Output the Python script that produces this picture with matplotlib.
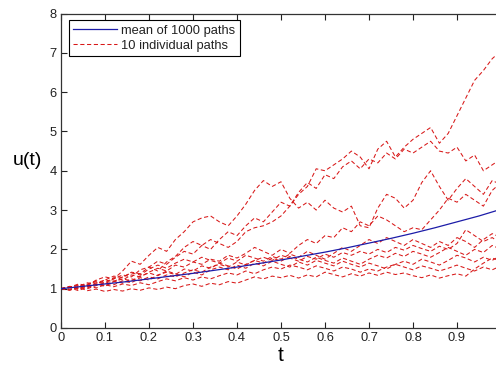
import numpy as np
import matplotlib
matplotlib.use("Agg")
import matplotlib.pyplot as plt

plt.rcParams['font.family'] = ['Liberation Sans', 'DejaVu Sans']

# time grids
t_paths = [round(0.02 * i, 2) for i in range(51)]
t_mean = [round(0.05 * i, 2) for i in range(21)]

# mean of 1000 paths
mean_vals = [1.00, 1.06, 1.12, 1.18, 1.25, 1.32, 1.39, 1.47, 1.55, 1.64, 1.73,
             1.83, 1.93, 2.04, 2.16, 2.28, 2.41, 2.55, 2.70, 2.85, 3.02]

# 10 individual paths
path_1 = [1.00, 1.05, 0.98, 1.10, 1.18, 1.12, 1.25, 1.35, 1.30, 1.48, 1.55,
          1.45, 1.68, 1.82, 2.05, 2.20, 2.10, 2.25, 2.15, 2.05, 2.20, 2.45,
          2.55, 2.60, 2.70, 2.85, 3.10, 3.40, 3.60, 4.05, 4.00, 4.15, 4.30,
          4.50, 4.35, 4.05, 4.55, 4.75, 4.35, 4.60, 4.80, 4.95, 5.10, 4.70,
          4.95, 5.40, 5.85, 6.30, 6.55, 6.85, 7.05]
path_2 = [1.00, 1.04, 1.12, 1.08, 1.22, 1.30, 1.25, 1.45, 1.70, 1.62, 1.85,
          2.05, 1.95, 2.25, 2.45, 2.70, 2.80, 2.85, 2.70, 2.60, 2.85, 3.15,
          3.50, 3.75, 3.60, 3.72, 3.30, 3.05, 3.20, 3.00, 3.25, 3.05, 2.95,
          3.10, 2.60, 2.55, 3.05, 3.40, 3.30, 3.05, 3.25, 3.70, 4.00, 3.60,
          3.25, 3.55, 3.80, 3.60, 3.40, 3.75, 3.65]
path_3 = [1.00, 0.97, 1.06, 1.15, 1.10, 1.22, 1.32, 1.28, 1.42, 1.38, 1.55,
          1.70, 1.62, 1.80, 1.95, 1.88, 2.10, 2.00, 2.25, 2.45, 2.35, 2.60,
          2.80, 2.70, 2.95, 3.20, 3.10, 3.45, 3.70, 3.55, 3.90, 3.80, 4.10,
          4.25, 4.05, 4.30, 4.20, 4.45, 4.30, 4.55, 4.45, 4.60, 4.75, 4.50,
          4.45, 4.60, 4.25, 4.40, 4.00, 4.15, 4.30]
path_4 = [1.00, 1.06, 1.02, 1.12, 1.20, 1.15, 1.28, 1.22, 1.35, 1.30, 1.42,
          1.52, 1.45, 1.60, 1.55, 1.68, 1.62, 1.75, 1.70, 1.85, 1.78, 1.90,
          2.05, 1.95, 1.85, 2.00, 1.90, 2.10, 2.25, 2.15, 2.35, 2.30, 2.55,
          2.45, 2.70, 2.60, 2.85, 2.75, 2.60, 2.45, 2.55, 2.50, 2.75, 3.00,
          3.30, 3.20, 3.40, 3.25, 3.10, 3.50, 3.70]
path_5 = [1.00, 1.03, 1.10, 1.05, 1.15, 1.22, 1.18, 1.30, 1.40, 1.35, 1.50,
          1.60, 1.52, 1.65, 1.75, 1.68, 1.80, 1.72, 1.65, 1.78, 1.70, 1.85,
          1.78, 1.70, 1.82, 1.75, 1.88, 1.80, 1.95, 1.85, 1.75, 1.90, 2.05,
          1.95, 2.10, 2.25, 2.15, 2.30, 2.20, 2.10, 2.25, 2.15, 2.05, 2.20,
          2.10, 2.30, 2.20, 2.05, 2.25, 2.40, 2.30]
path_6 = [1.00, 0.96, 1.04, 1.00, 1.08, 1.15, 1.10, 1.20, 1.15, 1.28, 1.22,
          1.35, 1.42, 1.36, 1.50, 1.45, 1.58, 1.52, 1.65, 1.58, 1.50, 1.62,
          1.72, 1.65, 1.78, 1.70, 1.82, 1.75, 1.68, 1.80, 1.72, 1.65, 1.78,
          1.70, 1.62, 1.75, 1.85, 1.78, 1.90, 1.82, 1.95, 1.88, 1.80, 1.92,
          2.05, 1.95, 1.85, 2.00, 1.92, 2.10, 2.00]
path_7 = [1.00, 1.02, 0.95, 1.05, 1.12, 1.06, 1.18, 1.25, 1.20, 1.32, 1.40,
          1.33, 1.45, 1.38, 1.30, 1.42, 1.35, 1.48, 1.55, 1.48, 1.60, 1.52,
          1.65, 1.58, 1.70, 1.62, 1.55, 1.68, 1.60, 1.72, 1.65, 1.58, 1.70,
          1.62, 1.55, 1.65, 1.58, 1.50, 1.62, 1.70, 1.62, 1.75, 1.68, 1.60,
          1.72, 1.85, 1.78, 1.68, 1.80, 1.72, 1.85]
path_8 = [1.00, 0.97, 1.03, 0.95, 0.99, 0.93, 0.98, 0.94, 1.00, 0.96, 1.02,
          0.98, 1.04, 1.00, 1.08, 1.12, 1.06, 1.14, 1.10, 1.18, 1.14, 1.22,
          1.30, 1.25, 1.32, 1.28, 1.34, 1.27, 1.35, 1.30, 1.42, 1.36, 1.30,
          1.38, 1.32, 1.40, 1.34, 1.42, 1.36, 1.40, 1.33, 1.28, 1.35, 1.27,
          1.33, 1.38, 1.32, 1.50, 1.65, 1.78, 1.70]
path_9 = [1.00, 1.05, 1.00, 1.08, 1.02, 1.10, 1.05, 1.12, 1.08, 1.15, 1.10,
          1.18, 1.25, 1.20, 1.28, 1.22, 1.30, 1.25, 1.33, 1.40, 1.35, 1.45,
          1.38, 1.48, 1.55, 1.50, 1.60, 1.55, 1.48, 1.58, 1.52, 1.45, 1.55,
          1.50, 1.42, 1.50, 1.45, 1.55, 1.62, 1.55, 1.48, 1.58, 1.52, 1.45,
          1.52, 1.60, 1.52, 1.45, 1.55, 1.48, 1.58]
path_10 = [1.00, 1.04, 1.08, 1.02, 1.12, 1.08, 1.20, 1.14, 1.25, 1.20, 1.30,
           1.25, 1.35, 1.30, 1.40, 1.48, 1.42, 1.55, 1.62, 1.55, 1.68, 1.60,
           1.72, 1.80, 1.72, 1.85, 1.78, 1.70, 1.82, 1.75, 1.88, 1.80, 1.92,
           1.85, 1.95, 1.88, 2.00, 1.92, 2.05, 1.98, 2.10, 2.02, 1.95, 2.08,
           2.00, 2.15, 2.50, 2.35, 2.20, 2.30, 2.15]
paths = [path_1, path_2, path_3, path_4, path_5,
         path_6, path_7, path_8, path_9, path_10]

x_ticks = [0, 0.1, 0.2, 0.3, 0.4, 0.5, 0.6, 0.7, 0.8, 0.9]
x_tick_labels = ['0', '0.1', '0.2', '0.3', '0.4', '0.5', '0.6', '0.7', '0.8', '0.9']

fig = plt.figure(figsize=(4.96, 3.67), dpi=100)
# the right edge of the axes (t = 1) falls just outside the picture
ax = fig.add_axes([61 / 496, 39 / 367, 440 / 496, 314.5 / 367])

for k, p in enumerate(paths):
    ax.plot(t_paths, p, color='#d81818', linestyle=(0, (4, 2.5)), linewidth=0.75,
            label='10 individual paths' if k == 0 else None, zorder=2)
ax.plot(t_mean, mean_vals, color='#1c1ca8', linewidth=0.9,
        label='mean of 1000 paths', zorder=3)

ax.set_xlim(0, 1)
ax.set_ylim(0, 8)
ax.set_xticks(x_ticks)
ax.set_xticklabels(x_tick_labels)
ax.set_yticks(range(0, 9))
ax.tick_params(direction='in', length=4, width=0.8, labelsize=9.3,
               top=True, right=False, colors='#222222', pad=3)
for s in ax.spines.values():
    s.set_color('#333333')
    s.set_linewidth(0.9)

ax.set_xlabel('t', fontsize=15, labelpad=1)
ax.set_ylabel('u(t)', fontsize=14, rotation=0, va='center', ha='center')
ax.yaxis.set_label_coords(-0.077, 0.534)

handles, labels = ax.get_legend_handles_labels()
order = [labels.index('mean of 1000 paths'), labels.index('10 individual paths')]
leg = ax.legend([handles[i] for i in order], [labels[i] for i in order],
                loc='upper left', bbox_to_anchor=(0.018, 0.979), fontsize=9.3,
                handlelength=3.4, handletextpad=0.3, borderpad=0.35,
                labelspacing=0.25, borderaxespad=0, fancybox=False,
                framealpha=1, edgecolor='black')
leg.get_frame().set_linewidth(0.8)
for txt in leg.get_texts():
    txt.set_color('#222222')

fig.savefig('out.png', dpi=100)
